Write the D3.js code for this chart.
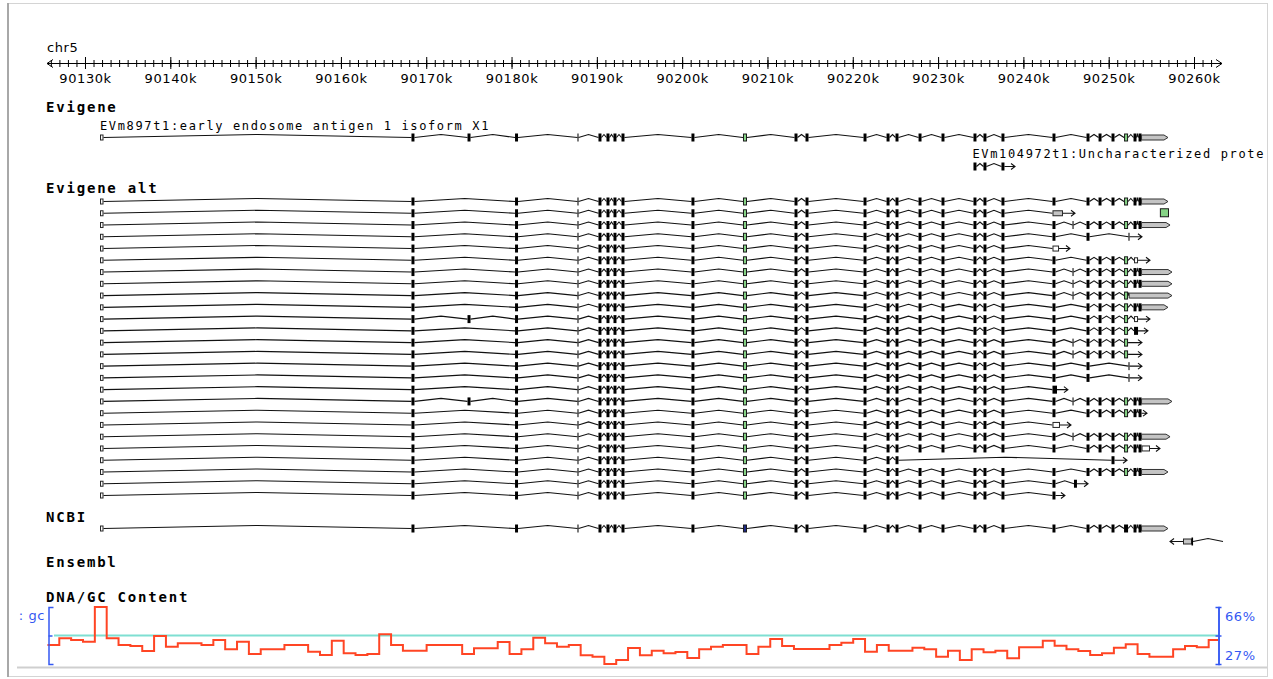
<!DOCTYPE html>
<html>
<head>
<meta charset="utf-8">
<title>chr5:90125663..90262813</title>
<style>
  body { margin: 0; background: #fff; }
  svg { display: block; }
  .trk { font-family: "DejaVu Sans Mono", monospace; font-weight: bold; font-size: 14px; letter-spacing: 1.8px; fill: #000; }
  .feat { font-family: "DejaVu Sans Mono", monospace; font-size: 12px; letter-spacing: 1.64px; fill: #000; }
  .sans { font-family: "DejaVu Sans", sans-serif; font-size: 13px; letter-spacing: 0.6px; }
</style>
</head>
<body>
<svg width="1273" height="679"></svg>
<script src="https://cdnjs.cloudflare.com/ajax/libs/d3/7.8.5/d3.min.js"></script>
<script>

// ---- data ----
var viewStart = 90125663, viewEnd = 90262813;
var majorTicks = d3.range(90130000, 90260001, 10000);
var majorLabels = ["90130k", "90140k", "90150k", "90160k", "90170k", "90180k", "90190k",
                   "90200k", "90210k", "90220k", "90230k", "90240k", "90250k", "90260k"];
var minorTicks = d3.range(90126000, 90262001, 1000);

// shared exon model of the EEA1 locus (kb)
var exonStart = [90131.76, 90168.27, 90174.84, 90180.41, 90187.73, 90190.19, 90191.13, 90191.95,
                 90192.89, 90201.09, 90207.13, 90213.17, 90214.46, 90221.26, 90223.96, 90225.01,
                 90227.71, 90230.40, 90234.15, 90235.32, 90237.43, 90243.41, 90245.76, 90247.40,
                 90248.81, 90250.33, 90251.80, 90252.91, 90253.50];
var exonEnd   = [90132.17, 90168.62, 90175.19, 90180.76, 90187.85, 90190.54, 90191.48, 90192.30,
                 90193.24, 90201.44, 90207.60, 90213.52, 90214.81, 90221.61, 90224.31, 90225.36,
                 90228.06, 90230.75, 90234.50, 90235.67, 90237.78, 90243.76, 90245.88, 90247.75,
                 90249.16, 90250.68, 90252.27, 90253.26, 90253.85];
var phaseExons = [10, 26];

var up   = [0, 1, 3, 4, 5, 6, 7, 8, 9, 10, 11, 12, 13, 14, 15, 16, 17, 18, 19, 20];
var upE2 = [0, 1, 2, 3, 4, 5, 6, 7, 8, 9, 10, 11, 12, 13, 14, 15, 16, 17, 18, 19, 20];
var down   = [21, 23, 24, 25, 26, 27, 28];
var down22 = [21, 22, 23, 24, 25, 26, 27, 28];

var evigeneMain = { exons: upE2.concat(down), tail: [["utr", 90253.85, 90256.95]] };
var evigeneSecond = { exons: [18, 19, 20], tail: [["arrow", 90239.02]] };

var altRows = [
  { exons: up.concat(down), tail: [["utr", 90253.85, 90256.95]] },
  { exons: up, tail: [["gray", 90243.41, 90244.64], ["arrow", 90246.05]] },
  { exons: up.concat(down22), tail: [["utr", 90253.85, 90257.19]] },
  { exons: up.concat([21, 23]), tail: [["cds", 90252.32, 90252.44], ["arrow", 90253.90]] },
  { exons: up, tail: [["box", 90243.41, 90244.18], ["arrow", 90245.46]] },
  { exons: up.concat([21, 23, 24, 25, 26]), tail: [["box", 90252.97, 90253.44], ["arrow", 90254.84]] },
  { exons: up.concat(down22), tail: [["utr", 90253.85, 90257.42]] },
  { exons: up.concat(down22), tail: [["utr", 90253.85, 90257.42]] },
  { exons: up.concat([21, 22, 23, 24, 25, 26]), tail: [["utr", 90252.40, 90257.42]] },
  { exons: up.concat(down), tail: [["utr", 90253.85, 90256.95]] },
  { exons: upE2.concat([21, 23, 24, 25, 26]), tail: [["box", 90252.97, 90253.44], ["arrow", 90254.84]] },
  { exons: up.concat([21, 23, 24, 25, 26]), tail: [["cds", 90252.97, 90253.44], ["arrow", 90254.60]] },
  { exons: up.concat([21, 22, 23, 24, 25, 26]), tail: [["arrow", 90253.90]] },
  { exons: up.concat([21, 22, 23, 24, 25, 26]), tail: [["arrow", 90253.90]] },
  { exons: up.concat([21, 23]), tail: [["cds", 90252.32, 90252.44], ["arrow", 90253.90]] },
  { exons: up.concat([21, 23]), tail: [["cds", 90252.32, 90252.44], ["arrow", 90253.90]] },
  { exons: up, tail: [["cds", 90243.41, 90243.94], ["arrow", 90245.22]] },
  { exons: upE2.concat(down22), tail: [["utr", 90253.85, 90257.42]] },
  { exons: up.concat(down), tail: [["arrow", 90254.49]] },
  { exons: up, tail: [["box", 90243.41, 90244.29], ["arrow", 90245.58]] },
  { exons: up.concat(down22), tail: [["utr", 90253.85, 90257.19]] },
  { exons: up.concat(down), tail: [["box", 90253.85, 90254.84], ["arrow", 90256.01]] },
  { exons: [0, 1, 3, 4, 5, 6, 7, 8, 9, 10, 11, 12, 13, 14, 15, 25], tail: [["arrow", 90252.15]] },
  { exons: up.concat(down), tail: [["utr", 90253.85, 90256.95]] },
  { exons: up.concat([21]), tail: [["cds", 90245.93, 90246.28], ["arrow", 90247.58]] },
  { exons: up.concat([21]), tail: [["arrow", 90244.87]] }
];
// stray green block sharing the second alt row
var altExtra = { row: 1, s: 90256.00, e: 90257.07 };

var ncbiMain = { exons: up.concat(down), tail: [["utr", 90253.85, 90256.95]] };
var ncbiSecond = [["larrow", 90257.19], ["gray", 90258.71, 90259.77], ["cds", 90259.71, 90259.89], ["open", 90263.40]];

// DNA/GC content, one value per window
var gcStart = 90125598, gcStep = 1389;
var gcPercent = [40.0, 44.6, 43.4, 42.3, 66.0, 44.6, 40.0, 39.3, 35.9, 46.2,
                 38.8, 41.2, 41.2, 40.0, 43.4, 37.1, 42.3, 33.8, 37.1, 37.1,
                 40.0, 40.0, 35.4, 33.2, 42.9, 34.3, 33.2, 33.8, 47.3, 40.0,
                 36.1, 36.1, 40.0, 40.0, 40.0, 33.8, 37.7, 37.7, 42.1, 33.8,
                 37.1, 45.0, 41.2, 38.8, 40.0, 33.0, 32.0, 27.0, 29.7, 37.9,
                 33.0, 36.1, 34.3, 35.2, 31.1, 37.1, 38.8, 40.0, 40.0, 33.8,
                 38.8, 44.1, 39.3, 37.3, 37.3, 37.3, 40.0, 41.6, 44.1, 35.4,
                 40.0, 36.1, 36.1, 38.2, 37.1, 32.0, 36.1, 29.7, 37.1, 35.0,
                 36.1, 30.9, 38.5, 38.5, 42.9, 39.5, 37.1, 35.9, 33.2, 34.3,
                 38.2, 40.5, 33.8, 32.0, 32.0, 37.1, 39.3, 38.5, 43.4];
var gcMin = 27, gcMax = 66;

// ---- drawing ----
var svg = d3.select("svg");
var x = d3.scaleLinear().domain([viewStart, viewEnd]).range([48, 1218]);
var kb = function (v) { return x(v * 1000); };
var left = x.range()[0], right = x.range()[1];

// frame
svg.append("rect").attr("x", 8.5).attr("y", 3.5).attr("width", 1259).attr("height", 673)
  .attr("fill", "none").attr("stroke", "#d4d4d4");
svg.append("line").attr("x1", 8).attr("x2", 8).attr("y1", 3).attr("y2", 677)
  .attr("stroke", "#a8a8a8").attr("stroke-width", 2);
svg.append("line").attr("x1", 17).attr("x2", 1267).attr("y1", 667.5).attr("y2", 667.5)
  .attr("stroke", "#cfcfcf").attr("stroke-width", 2);

// ruler
svg.append("text").attr("class", "sans").attr("x", 47).attr("y", 52).text("chr5");
var rulerY = 63.5;
svg.append("line").attr("x1", left - 1).attr("x2", right + 4)
  .attr("y1", rulerY).attr("y2", rulerY).attr("stroke", "#000");
svg.append("path").attr("fill", "none").attr("stroke", "#000")
  .attr("d", "M" + (left + 5) + "," + (rulerY - 4) + "L" + (left - 1) + "," + rulerY + "L" + (left + 5) + "," + (rulerY + 4) +
             "M" + (right - 2) + "," + (rulerY - 4) + "L" + (right + 4) + "," + rulerY + "L" + (right - 2) + "," + (rulerY + 4));

svg.append("g").attr("transform", "translate(0,60)")
  .call(d3.axisBottom(x).tickValues(minorTicks).tickSize(7).tickFormat(""))
  .call(function (g) { g.select(".domain").remove(); g.selectAll("line").attr("stroke", "#000"); });

svg.append("g").attr("transform", "translate(0,57)")
  .call(d3.axisBottom(x).tickValues(majorTicks).tickSize(12).tickPadding(5)
    .tickFormat(function (d, i) { return majorLabels[i]; }))
  .call(function (g) {
    g.select(".domain").remove();
    g.selectAll("line").attr("stroke", "#000");
    g.selectAll("text").attr("class", "sans").attr("fill", "#000")
      .attr("font-family", null).attr("font-size", null);
  });

// track labels
var trackLabels = ["Evigene", "Evigene alt", "NCBI", "Ensembl", "DNA/GC Content"];
var trackLabelY = [112, 193, 522, 567, 602];
svg.selectAll("text.trk").data(trackLabels).enter().append("text")
  .attr("class", "trk").attr("x", 46).attr("y", function (d, i) { return trackLabelY[i]; })
  .text(function (d) { return d; });

function partsFor(t, kindOf) {
  var parts = t.exons.map(function (i) {
    return { s: exonStart[i], e: exonEnd[i], kind: kindOf(i) };
  });
  t.tail.forEach(function (p) {
    if (p[0] === "arrow") parts.push({ s: parts[parts.length - 1].e, e: p[1], kind: "arrow" });
    else parts.push({ s: p[1], e: p[2], kind: p[0] });
  });
  return parts;
}
function evigeneKind(i) {
  if (i === 0) return "box";
  return phaseExons.indexOf(i) >= 0 ? "green" : "cds";
}
function ncbiKind(i) {
  if (i === 0) return "box";
  return i === phaseExons[0] ? "blue" : "cds";
}

function drawTranscript(g, y, parts) {
  var lines = g.append("g").attr("fill", "none").attr("stroke", "#111").attr("stroke-width", 1.1);
  var boxes = g.append("g");
  parts.forEach(function (p, i) {
    if (p.kind === "arrow") {
      var a = kb(p.s), b = kb(p.e);
      lines.append("path").attr("d", "M" + a + "," + y + "H" + b +
        "M" + (b - 4) + "," + (y - 3) + "L" + b + "," + y + "L" + (b - 4) + "," + (y + 3));
      return;
    }
    if (p.kind === "larrow") return;
    var prev = parts[i - 1];
    if (prev && prev.kind === "larrow") {
      var t = kb(prev.s), s0 = kb(p.s);
      lines.append("path").attr("d", "M" + s0 + "," + y + "H" + t +
        "M" + (t + 4) + "," + (y - 3) + "L" + t + "," + y + "L" + (t + 4) + "," + (y + 3));
    } else if (prev) {
      var a0 = kb(prev.e), b0 = kb(p.s);
      if (b0 - a0 > 1) {
        lines.append("path").attr("d", "M" + a0 + "," + y + "L" + (a0 + b0) / 2 + "," + (y - 3) + "L" + b0 + "," + y);
      }
    }
    if (p.kind === "open") return;
    var x0 = kb(p.s), x1 = kb(p.e), w = Math.max(1, x1 - x0);
    if (p.kind === "cds") {
      boxes.append("rect").attr("x", x0).attr("y", y - 4).attr("width", w).attr("height", 8).attr("fill", "#000");
    } else if (p.kind === "green" || p.kind === "blue") {
      boxes.append("rect").attr("x", x0 + 0.5).attr("y", y - 3.5).attr("width", Math.max(1, w - 1)).attr("height", 7)
        .attr("fill", p.kind === "green" ? "#86d486" : "#1c2884").attr("stroke", "#1a1a1a");
    } else if (p.kind === "box" || p.kind === "gray") {
      boxes.append("rect").attr("x", x0 + 0.5).attr("y", y - 2.5).attr("width", Math.max(1, w - 1)).attr("height", 5)
        .attr("fill", p.kind === "box" ? "#fff" : "#c4c4c4").attr("stroke", "#262626");
    } else if (p.kind === "utr") {
      boxes.append("path").attr("fill", "#c4c4c4").attr("stroke", "#333")
        .attr("d", "M" + x0 + "," + (y - 2.5) + "H" + (x1 - 4) + "L" + x1 + "," + y + "L" + (x1 - 4) + "," + (y + 2.5) + "H" + x0 + "Z");
    }
  });
}

// Evigene
var evg = svg.append("g");
evg.append("text").attr("class", "feat").attr("x", kb(exonStart[0])).attr("y", 130)
  .text("EVm897t1:early endosome antigen 1 isoform X1");
drawTranscript(evg, 137.5, partsFor(evigeneMain, evigeneKind));
evg.append("text").attr("class", "feat").attr("x", kb(exonStart[18]) - 1).attr("y", 158)
  .text("EVm104972t1:Uncharacterized prote");
drawTranscript(evg, 166.5, partsFor(evigeneSecond, evigeneKind));

// Evigene alt
var rowY = d3.scalePoint().domain(d3.range(altRows.length)).range([201.5, 495.5]);
var alt = svg.append("g");
altRows.forEach(function (t, i) {
  drawTranscript(alt, rowY(i), partsFor(t, evigeneKind));
});
alt.append("rect").attr("x", kb(altExtra.s) + 0.5).attr("y", rowY(altExtra.row) - 4.5)
  .attr("width", kb(altExtra.e) - kb(altExtra.s) - 1).attr("height", 8)
  .attr("fill", "#86d486").attr("stroke", "#1a1a1a");

// NCBI
var ncbi = svg.append("g");
drawTranscript(ncbi, 528.5, partsFor(ncbiMain, ncbiKind));
drawTranscript(ncbi, 541.5, ncbiSecond.map(function (p) {
  return p.length === 2 ? { s: p[1], e: p[1], kind: p[0] } : { s: p[1], e: p[2], kind: p[0] };
}));

// DNA/GC content
var y = d3.scaleLinear().domain([gcMin, gcMax]).range([664, 607]);
var blue = "#3458f2";
var gcMid = (gcMin + gcMax) / 2;

svg.append("line").attr("x1", left + 6).attr("x2", right).attr("y1", y(gcMid)).attr("y2", y(gcMid))
  .attr("stroke", "#7fdfd2").attr("stroke-width", 2);

var pts = gcPercent.map(function (v, i) { return [gcStart + i * gcStep, v]; });
pts.push([viewEnd, gcPercent[gcPercent.length - 1]]);
svg.append("path").datum(pts)
  .attr("fill", "none").attr("stroke", "#ff4524").attr("stroke-width", 2)
  .attr("d", d3.line().curve(d3.curveStepAfter)
    .x(function (d) { return x(d[0]); }).y(function (d) { return y(d[1]); }));

svg.append("g").attr("transform", "translate(" + (left + 0.5) + ",0)")
  .call(d3.axisRight(y).tickValues([gcMid]).tickSize(4).tickSizeOuter(5).tickFormat(""))
  .call(function (g) { g.selectAll("path,line").attr("stroke", blue).attr("stroke-width", 1.5); });
[d3.axisRight, d3.axisLeft].forEach(function (ax) {
  svg.append("g").attr("transform", "translate(" + (right + 0.5) + ",0)")
    .call(ax(y).tickValues([gcMid]).tickSize(3).tickSizeOuter(3).tickFormat(""))
    .call(function (g) { g.selectAll("path,line").attr("stroke", blue).attr("stroke-width", 1.5); });
});

svg.append("text").attr("class", "sans").attr("fill", blue).attr("text-anchor", "end")
  .attr("x", 45).attr("y", 620).text(": gc");
svg.append("text").attr("class", "sans").attr("fill", blue)
  .attr("x", right + 7).attr("y", y(gcMax) + 14).text(gcMax + "%");
svg.append("text").attr("class", "sans").attr("fill", blue)
  .attr("x", right + 7).attr("y", y(gcMin) - 4).text(gcMin + "%");

</script>
</body>
</html>
